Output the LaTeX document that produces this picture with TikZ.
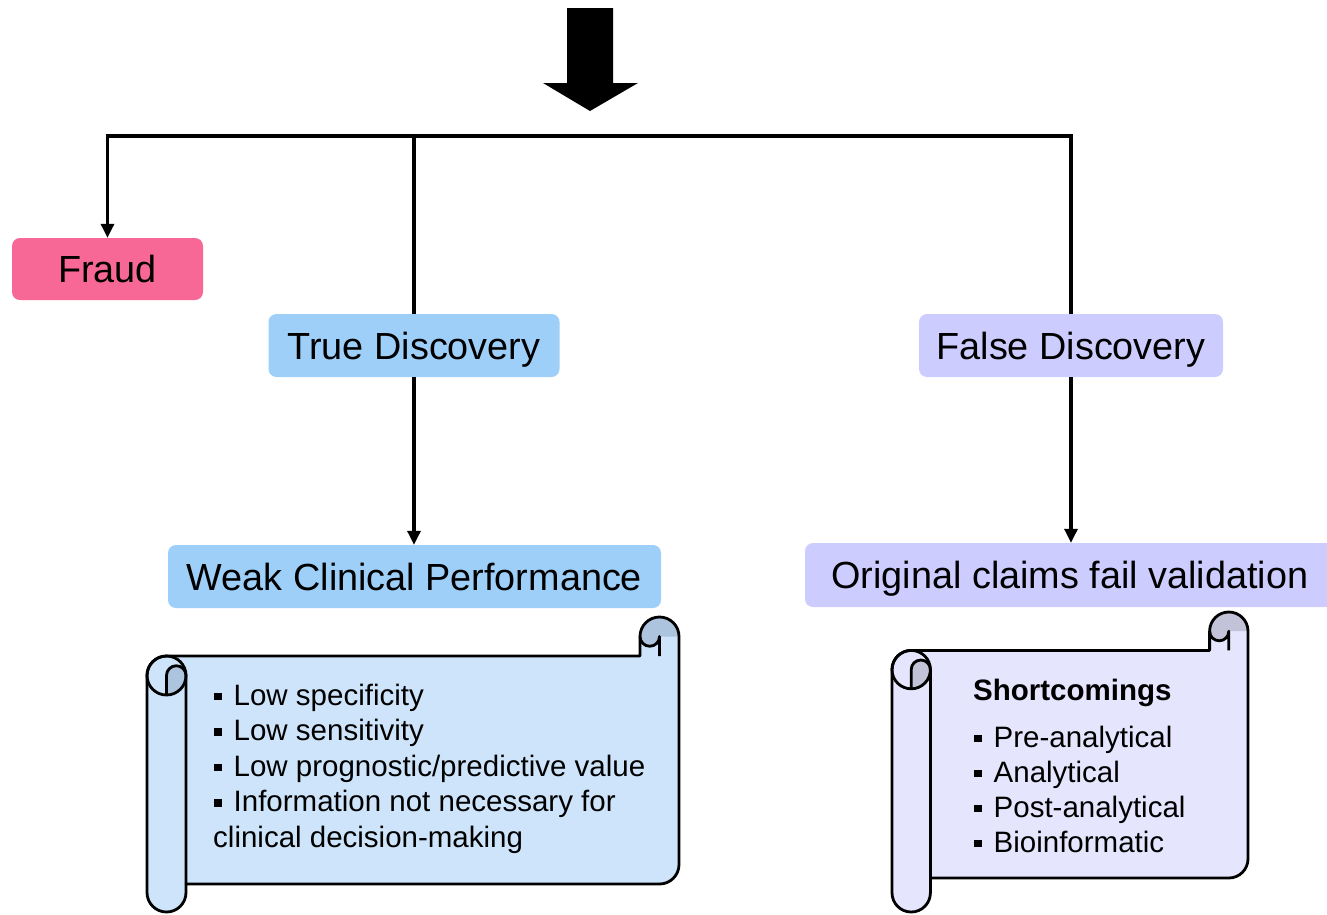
\documentclass[tikz,border=0pt]{standalone}
\usepackage{fontspec}
\setmainfont{Liberation Sans}
\usetikzlibrary{arrows.meta}
\definecolor{fraudc}{RGB}{247,104,150}
\definecolor{tdc}{RGB}{157,207,249}
\definecolor{fdc}{RGB}{204,204,255}
\definecolor{sconea}{RGB}{205,228,250}
\definecolor{sconeb}{RGB}{172,196,222}
\definecolor{stwoa}{RGB}{229,229,253}
\definecolor{stwob}{RGB}{194,194,216}
\newcommand\blt{\rule[0.16em]{0.26em}{0.26em}\hspace{0.4em}}
% l r t yb b a
\newcommand\scrollpath[6]{({#1},{#3+3*#6}) arc[start angle=180,delta angle=90,radius=#6]
 -- ({#2-2*#6},{#3+2*#6}) -- ({#2-2*#6},{#3+#6})
 arc[start angle=180,delta angle=180,radius=#6]
 -- ({#2},{#4-#6}) arc[start angle=0,delta angle=90,radius=#6]
 -- ({#1+2*#6},{#4}) -- ({#1+2*#6},{#5-#6})
 arc[start angle=0,delta angle=180,radius=#6] -- cycle}
\newcommand\drawscroll[8]{%
 \fill[#7] \scrollpath{#1}{#2}{#3}{#4}{#5}{#6};
 \fill[#8] ({#2-2*#6},{#3+#6}) arc[start angle=180,delta angle=180,radius=#6]
   -- ({#2-#6},{#3+#6}) arc[start angle=0,delta angle=180,radius=#6/2] -- cycle;
 \fill[#8] ({#1+#6},{#3+4*#6}) arc[start angle=90,delta angle=-90,radius=#6]
   arc[start angle=0,delta angle=-180,radius=#6/2] -- cycle;
 \draw[sline] \scrollpath{#1}{#2}{#3}{#4}{#5}{#6};
 \draw[sline] ({#2-2*#6},{#3+#6}) arc[start angle=180,delta angle=-180,radius=#6/2] -- ({#2-#6},{#3+2*#6});
 \draw[sline] ({#1+#6},{#3+3*#6}) circle[radius=#6];
 \draw[sline] ({#1+#6},{#3+4*#6}) -- ({#1+#6},{#3+3*#6})
   arc[start angle=180,delta angle=180,radius=#6/2] -- ({#1+2*#6},{#4});
}
\tikzset{
 hbox/.style={rounded corners=8pt, inner sep=0pt, text height=27pt, text depth=0pt,
   font=\fontsize{37.8}{45}\selectfont},
 arr/.style={line width=3.2pt, -{Triangle[length=14pt,width=13pt]}},
 conn/.style={line width=3.2pt},
 sline/.style={line width=2.8pt, line join=round, draw=black},
 lst/.style={inner sep=0pt, anchor=base west, font=\fontsize{29.5}{35}\selectfont},
}
\begin{document}
\begin{tikzpicture}[x=1pt,y=-1pt]
\useasboundingbox (0,0) rectangle (1327,914);
\clip (0,0) rectangle (1327,914);
% big arrow
\fill[black] (567,8) -- (613,8) -- (613,83) -- (638,83) -- (590,111) -- (543,83) -- (567,83) -- cycle;
% boxes
\node[hbox, fill=fraudc, minimum width=191pt, minimum height=62pt] (fraud) at (107.5,269) {Fraud};
\node[hbox, fill=tdc, minimum width=291pt, minimum height=63pt] (true) at (414,345.5) {True Discovery};
\node[hbox, fill=fdc, minimum width=304pt, minimum height=63pt] (false) at (1071,345.5) {False Discovery};
\node[hbox, fill=tdc, minimum width=493pt, minimum height=63pt] (weak) at (414.5,576.5) {Weak Clinical Performance};
\node[hbox, fill=fdc, minimum width=530pt, minimum height=64pt] (orig) at (1070,575) {Original claims fail validation};
% connectors
\coordinate (jl) at (107.5,136);
\coordinate (jm) at (414,136);
\coordinate (jr) at (1071,136);
\draw[arr, line join=miter] (false.north) -- (jr) -- (jl) -- (fraud.north);
\draw[conn] (jm) -- (true.north);
\draw[arr] (true.south) -- (true.south |- weak.north);
\draw[arr] (false.south) -- (false.south |- orig.north);
% scrolls
\drawscroll{147}{679}{617}{884}{912}{19.5}{sconea}{sconeb}
\drawscroll{892}{1248}{612}{878}{912}{19.2}{stwoa}{stwob}
% scroll texts
\node[lst] (a1) at (214,705) {\blt Low specificity};
\node[lst] (a2) at (214,740.5) {\blt Low sensitivity};
\node[lst] (a3) at (214,776) {\blt Low prognostic/predictive value};
\node[lst] (a4) at (214,811.5) {\blt Information not necessary for};
\node[lst] (a5) at (213,847) {clinical decision-making};
\node[lst, font=\fontsize{29.5}{35}\selectfont\bfseries] (b0) at (973,700) {Shortcomings};
\node[lst] (b1) at (974,747) {\blt Pre-analytical};
\node[lst] (b2) at (974,782) {\blt Analytical};
\node[lst] (b3) at (974,817) {\blt Post-analytical};
\node[lst] (b4) at (974,852) {\blt Bioinformatic};
\end{tikzpicture}
\end{document}
